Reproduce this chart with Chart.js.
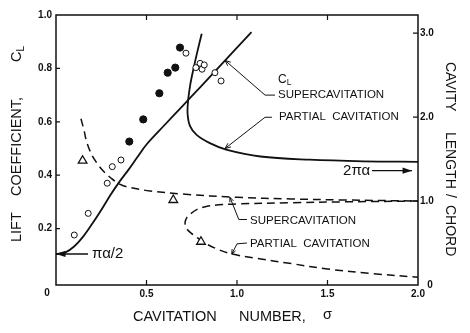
<!DOCTYPE html>
<html>
<head>
<meta charset="utf-8">
<script src="https://cdn.jsdelivr.net/npm/chart.js@4.4.1/dist/chart.umd.min.js"></script>
<style>
  html, body { margin: 0; padding: 0; background: #fff; }
</style>
</head>
<body>
<canvas id="grafico" width="470" height="333"></canvas>
<script>
// axis ticks
const sigmaTicks = [0.5, 1.0, 1.5, 2.0];
const clTicks = [0.2, 0.4, 0.6, 0.8, 1.0];
const lengthTicks = [1.0, 2.0, 3.0];

// lift coefficient, supercavitation theory
const scLiftSigma = [0, 0.05, 0.10, 0.15, 0.20, 0.25, 0.30, 0.35, 0.40, 0.45, 0.50, 0.60, 0.70, 0.80, 0.90, 1.00, 1.08];
const scLiftCL = [0.105, 0.110, 0.133, 0.170, 0.218, 0.270, 0.325, 0.375, 0.420, 0.468, 0.515, 0.588, 0.660, 0.732, 0.805, 0.878, 0.936];

// lift coefficient, partial cavitation theory
const pcLiftSigma = [0.805, 0.78, 0.76, 0.742, 0.73, 0.727, 0.74, 0.777, 0.85, 0.94, 1.13, 1.40, 1.70, 2.00];
const pcLiftCL = [0.93, 0.86, 0.80, 0.74, 0.68, 0.63, 0.585, 0.551, 0.52, 0.496, 0.47, 0.458, 0.452, 0.45];

// cavity length / chord, supercavitation
const scLenSigma = [0.138, 0.155, 0.17, 0.20, 0.23, 0.26, 0.30, 0.344, 0.40, 0.52, 0.70, 1.00, 1.30, 1.60, 2.00];
const scLenValue = [1.98, 1.84, 1.70, 1.54, 1.44, 1.36, 1.28, 1.21, 1.165, 1.12, 1.083, 1.044, 1.025, 1.012, 1.00];

// cavity length / chord, partial cavitation
const pcLenSigma = [2.00, 1.60, 1.30, 1.00, 0.90, 0.83, 0.78, 0.745, 0.722, 0.713, 0.72, 0.745, 0.78, 0.83, 0.90, 0.97, 1.10, 1.30, 1.50, 1.75, 2.00];
const pcLenValue = [1.00, 0.99, 0.98, 0.966, 0.955, 0.935, 0.90, 0.85, 0.80, 0.745, 0.68, 0.62, 0.565, 0.49, 0.42, 0.37, 0.32, 0.255, 0.19, 0.135, 0.092];

// measured lift
const filledSigma = [0.405, 0.482, 0.571, 0.617, 0.659, 0.685];
const filledCL = [0.526, 0.609, 0.707, 0.784, 0.803, 0.878];
const openSigma = [0.101, 0.178, 0.283, 0.311, 0.359, 0.718, 0.773, 0.796, 0.807, 0.819, 0.878, 0.912];
const openCL = [0.176, 0.257, 0.370, 0.432, 0.457, 0.857, 0.803, 0.819, 0.797, 0.813, 0.784, 0.753];

// measured cavity length
const triSigma = [0.147, 0.648, 0.801];
const triLength = [1.48, 1.012, 0.515];

const FONT = '"Liberation Sans", Arial, sans-serif';
const INK = "#111";

function pontos(xs, ys) {
    return xs.map((x, i) => ({ x: x, y: ys[i] }));
}

function seta(ctx, pts, head, cheia) {
    // polyline, arrow head on the last point
    ctx.beginPath();
    ctx.moveTo(pts[0][0], pts[0][1]);
    for (let i = 1; i < pts.length; i++) ctx.lineTo(pts[i][0], pts[i][1]);
    ctx.stroke();
    const [x0, y0] = pts[pts.length - 2];
    const [x1, y1] = pts[pts.length - 1];
    const ang = Math.atan2(y1 - y0, x1 - x0);
    const abre = cheia ? 0.32 : 0.4;
    ctx.beginPath();
    ctx.moveTo(x1 + head * Math.cos(ang + Math.PI - abre), y1 + head * Math.sin(ang + Math.PI - abre));
    ctx.lineTo(x1, y1);
    ctx.lineTo(x1 + head * Math.cos(ang + Math.PI + abre), y1 + head * Math.sin(ang + Math.PI + abre));
    if (cheia) { ctx.closePath(); ctx.fill(); } else ctx.stroke();
}

const moldura = {
    id: "moldura",
    afterDatasetsDraw(chart) {
        const { ctx, chartArea: a } = chart;
        const sx = chart.scales.x, sy = chart.scales.y, sy2 = chart.scales.y2;
        const P = (s, c) => [sx.getPixelForValue(s), sy.getPixelForValue(c)];
        const Q = (s, l) => [sx.getPixelForValue(s), sy2.getPixelForValue(l)];

        ctx.save();
        ctx.strokeStyle = INK;
        ctx.fillStyle = INK;

        // frame
        ctx.lineWidth = 1.5;
        ctx.strokeRect(a.left, a.top, a.right - a.left, a.bottom - a.top);

        // inner ticks
        ctx.lineWidth = 1.2;
        ctx.beginPath();
        sigmaTicks.slice(0, -1).forEach(v => {
            const px = sx.getPixelForValue(v);
            ctx.moveTo(px, a.bottom); ctx.lineTo(px, a.bottom - 5);
            ctx.moveTo(px, a.top); ctx.lineTo(px, a.top + 5);
        });
        clTicks.slice(0, -1).forEach(v => {
            const py = sy.getPixelForValue(v);
            ctx.moveTo(a.left, py); ctx.lineTo(a.left + 4, py);
        });
        lengthTicks.forEach(v => {
            const py = sy2.getPixelForValue(v);
            ctx.moveTo(a.right, py); ctx.lineTo(a.right - 5, py);
        });
        ctx.stroke();

        // corner zeros
        ctx.font = "bold 10px " + FONT;
        ctx.textAlign = "center";
        ctx.textBaseline = "middle";
        ctx.fillText("0", a.left - 9, a.bottom + 8);
        ctx.fillText("0", a.right + 12, a.bottom);

        // axis titles
        ctx.font = "14.5px " + FONT;
        ctx.textAlign = "left";
        ctx.fillText("CAVITATION", 133, 317);
        ctx.fillText("NUMBER,", 239, 317);
        ctx.fillText("\u03c3", 323, 315);

        ctx.save();
        ctx.translate(17, 0);
        ctx.rotate(-Math.PI / 2);
        ctx.fillText("LIFT", -242, 0);
        ctx.fillText("COEFFICIENT,", -196, 0);
        ctx.fillText("C", -62, 0);
        const wC = ctx.measureText("C").width;
        ctx.font = "10px " + FONT;
        ctx.fillText("L", -62 + wC, 4);
        ctx.restore();

        ctx.save();
        ctx.font = "14px " + FONT;
        ctx.translate(450, 0);
        ctx.rotate(Math.PI / 2);
        ctx.fillText("CAVITY", 62, 0);
        ctx.fillText("LENGTH", 132, 0);
        ctx.fillText("/", 194, 0);
        ctx.fillText("CHORD", 205, 0);
        ctx.restore();

        // curve labels
        let p = P(1.227, 0.756);
        ctx.font = "12px " + FONT;
        ctx.fillText("C", p[0], p[1]);
        const w = ctx.measureText("C").width;
        ctx.font = "8.5px " + FONT;
        ctx.fillText("L", p[0] + w, p[1] + 3);
        ctx.font = "11.5px " + FONT;
        p = P(1.227, 0.70);
        ctx.fillText("SUPERCAVITATION", p[0], p[1]);
        p = P(1.232, 0.617);
        ctx.fillText("PARTIAL  CAVITATION", p[0], p[1]);
        p = Q(1.072, 0.765);
        ctx.fillText("SUPERCAVITATION", p[0], p[1]);
        p = Q(1.072, 0.488);
        ctx.fillText("PARTIAL  CAVITATION", p[0], p[1]);

        // leaders
        ctx.lineWidth = 1;
        seta(ctx, [P(1.21, 0.70), P(1.155, 0.70), P(0.934, 0.83)], 6, false);
        seta(ctx, [P(1.193, 0.617), P(1.155, 0.617), P(0.934, 0.50)], 6, false);
        seta(ctx, [Q(1.055, 0.78), Q(1.01, 0.78), Q(0.961, 1.044)], 5, false);
        seta(ctx, [Q(1.055, 0.50), Q(1.0, 0.49), Q(0.971, 0.368)], 5, false);

        // limits at sigma = 0 and sigma -> infinity
        ctx.lineWidth = 1.4;
        ctx.font = "15px " + FONT;
        p = P(1.586, 0.417);
        ctx.fillText("2\u03c0\u03b1", p[0], p[1]);
        seta(ctx, [P(1.746, 0.417), P(1.967, 0.417)], 10, true);
        p = P(0.199, scLiftCL[0]);
        ctx.fillText("\u03c0\u03b1/2", p[0], p[1]);
        seta(ctx, [P(0.177, scLiftCL[0]), P(0, scLiftCL[0])], 10, true);

        ctx.restore();
    }
};

const linha = (data, eixo, tracejado) => ({
    data: data,
    yAxisID: eixo,
    showLine: true,
    borderColor: INK,
    borderWidth: tracejado ? 1.5 : 1.8,
    borderDash: tracejado ? [8, 5] : [],
    pointRadius: 0,
    tension: 0.35,
    fill: false,
    order: 2,
});

const fonteEixo = { family: FONT, size: 10, weight: "bold" };

new Chart(document.getElementById("grafico").getContext("2d"), {
    type: "scatter",
    data: {
        datasets: [
            linha(pontos(scLiftSigma, scLiftCL), "y", false),
            linha(pontos(pcLiftSigma, pcLiftCL), "y", false),
            linha(pontos(scLenSigma, scLenValue), "y2", true),
            linha(pontos(pcLenSigma, pcLenValue), "y2", true),
            {
                data: pontos(filledSigma, filledCL),
                yAxisID: "y",
                pointRadius: 3.6,
                pointBackgroundColor: INK,
                pointBorderColor: INK,
                order: 1,
            },
            {
                data: pontos(openSigma, openCL),
                yAxisID: "y",
                pointRadius: 3,
                pointBorderWidth: 1,
                pointBackgroundColor: "#fff",
                pointBorderColor: INK,
                order: 1,
            },
            {
                data: pontos(triSigma, triLength),
                yAxisID: "y2",
                pointStyle: "triangle",
                pointRadius: 5,
                pointBorderWidth: 1.3,
                pointBackgroundColor: "#fff",
                pointBorderColor: INK,
                order: 1,
            },
        ],
    },
    options: {
        responsive: false,
        animation: false,
        devicePixelRatio: 1,
        layout: { padding: { left: 32, right: 30, top: 15, bottom: 32 } },
        plugins: { legend: { display: false }, tooltip: { enabled: false } },
        scales: {
            x: {
                type: "linear",
                position: "bottom",
                min: 0,
                max: 2,
                afterBuildTicks: s => { s.ticks = sigmaTicks.map(v => ({ value: v })); },
                afterFit: s => { s.height = 16; },
                ticks: { callback: v => v.toFixed(1), font: fonteEixo, color: INK, padding: 3, maxRotation: 0, autoSkip: false },
                grid: { display: false, drawTicks: false },
                border: { display: false },
            },
            y: {
                position: "left",
                min: -0.0112,
                max: 1.0,
                afterBuildTicks: s => { s.ticks = clTicks.map(v => ({ value: v })); },
                afterFit: s => { s.width = 24; },
                ticks: { callback: v => v.toFixed(1), font: fonteEixo, color: INK, padding: 4 },
                grid: { display: false, drawTicks: false },
                border: { display: false },
            },
            y2: {
                position: "right",
                min: 0,
                max: 3.215,
                afterBuildTicks: s => { s.ticks = lengthTicks.map(v => ({ value: v })); },
                afterFit: s => { s.width = 22; },
                ticks: { callback: v => v.toFixed(1), font: fonteEixo, color: INK, padding: 2 },
                grid: { display: false, drawTicks: false },
                border: { display: false },
            },
        },
    },
    plugins: [moldura],
});
</script>
</body>
</html>
